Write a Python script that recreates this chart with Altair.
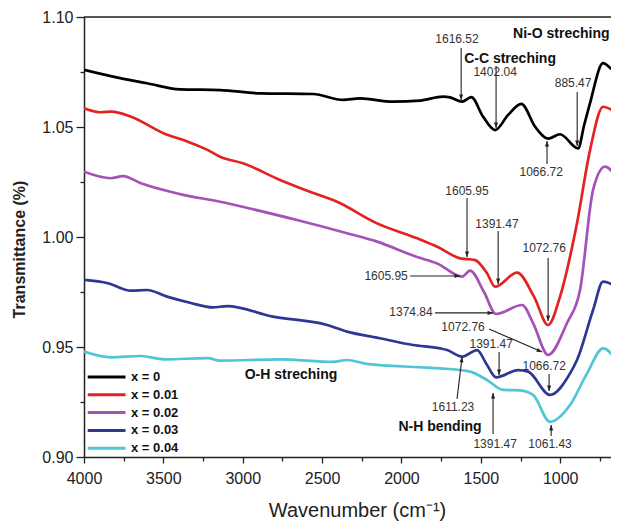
import altair as alt
import pandas as pd

# ---------------- data ----------------
series_names = ["x = 0", "x = 0.01", "x = 0.02", "x = 0.03", "x = 0.04"]
series_colors = ["#000000", "#e32222", "#a552b8", "#2f3694", "#50c5d5"]

wn_x0 = [4000, 3817, 3603, 3395, 3143, 2891, 2557, 2368, 2261, 2053, 1883, 1738, 1694, 1618,
         1560, 1486, 1410, 1328, 1245, 1158, 1076, 1001, 887, 849, 812, 730, 667, 629]
t_x0 = [1.0760, 1.0729, 1.0699, 1.0671, 1.0668, 1.0653, 1.0650, 1.0623, 1.0630, 1.0615, 1.0620,
        1.0638, 1.0635, 1.0615, 1.0636, 1.0547, 1.0486, 1.0555, 1.0605, 1.0501, 1.0447, 1.0467,
        1.0403, 1.0509, 1.0609, 1.0790, 1.0759, 1.0751]

wn_x1 = [4000, 3893, 3830, 3704, 3496, 3345, 3219, 3143, 2998, 2765, 2590, 2406, 2154, 1901,
         1775, 1630, 1536, 1461, 1410, 1272, 1165, 1076, 1001, 894, 812, 730, 629]
t_x1 = [1.0585, 1.0567, 1.0570, 1.0547, 1.0471, 1.0433, 1.0395, 1.0365, 1.0335, 1.0259, 1.0209,
        1.0160, 1.0062, 0.9994, 0.9956, 0.9903, 0.9895, 0.9835, 0.9774, 0.9838, 0.9729, 0.9600,
        0.9729, 1.0064, 1.0395, 1.0592, 1.0555]

wn_x2 = [4000, 3830, 3754, 3641, 3395, 3143, 2935, 2658, 2343, 2154, 1901, 1775, 1618, 1568,
         1480, 1404, 1240, 1171, 1076, 957, 875, 793, 718, 629]
t_x2 = [1.0297, 1.0267, 1.0277, 1.0244, 1.0195, 1.0160, 1.0126, 1.0077, 1.0017, 0.9979, 0.9909,
        0.9880, 0.9820, 0.9847, 0.9750, 0.9650, 0.9691, 0.9609, 0.9464, 0.9609, 0.9759,
        1.0214, 1.0320, 1.0251]

wn_x3 = [4000, 3849, 3704, 3603, 3477, 3332, 3187, 3099, 2809, 2469, 2343, 2135, 1927, 1757,
         1712, 1618, 1524, 1461, 1404, 1265, 1202, 1064, 938, 894, 793, 730, 629]
t_x3 = [0.9805, 0.9790, 0.9756, 0.9759, 0.9729, 0.9701, 0.9680, 0.9686, 0.9638, 0.9600, 0.9570,
        0.9540, 0.9509, 0.9494, 0.9486, 0.9456, 0.9486, 0.9418, 0.9362, 0.9395, 0.9388, 0.9282,
        0.9380, 0.9441, 0.9668, 0.9797, 0.9767]

wn_x4 = [4000, 3830, 3641, 3496, 3219, 3143, 2765, 2431, 2343, 2217, 1883, 1757, 1568, 1461,
         1360, 1253, 1171, 1064, 938, 831, 730, 629]
t_x4 = [0.9479, 0.9453, 0.9459, 0.9444, 0.9449, 0.9438, 0.9444, 0.9433, 0.9441, 0.9423, 0.9408,
        0.9403, 0.9388, 0.9350, 0.9305, 0.9303, 0.9282, 0.9160, 0.9236, 0.9380, 0.9494, 0.9418]

# annotations (text)
ann_text = ["1616.52", "C-C streching", "1402.04", "Ni-O streching", "885.47", "1066.72",
            "1605.95", "1391.47", "1072.76", "1605.95", "1374.84", "1072.76", "1391.47",
            "1066.72", "1611.23", "N-H bending", "1391.47", "1061.43", "O-H streching"]
ann_wn = [1650, 1316, 1410, 1297, 919, 1120, 1587, 1398, 1101, 2097, 1940, 1612, 1435, 1101,
          1675, 1757, 1410, 1064, 2696]
ann_t = [1.0900, 1.0809, 1.0750, 1.0923, 1.0700, 1.0295, 1.0209, 1.0059, 0.9950, 0.9823, 0.9659,
         0.9591, 0.9514, 0.9414, 0.9227, 0.9136, 0.9059, 0.9059, 0.9373]
ann_kind = ["peak", "band", "peak", "band_left", "peak", "peak", "peak", "peak", "peak", "peak",
            "peak", "peak", "peak", "peak", "peak", "band", "peak", "peak", "band"]

# arrows (from -> to)
arr_wn_from = [1624, 1404, 893, 1083, 1587, 1391, 1076, 1946, 1788, 1448, 1385, 1070, 1650, 1423, 1057]
arr_t_from = [1.0859, 1.0777, 1.0659, 1.0332, 1.0177, 1.0027, 0.9905, 0.9823, 0.9655, 0.9582,
              0.9477, 0.9377, 0.9264, 0.9105, 0.9095]
arr_wn_to = [1624, 1404, 893, 1083, 1587, 1391, 1076, 1631, 1423, 1114, 1385, 1070, 1618, 1423, 1057]
arr_t_to = [1.0623, 1.0495, 1.0414, 1.0436, 0.9909, 0.9786, 0.9618, 0.9823, 0.9655, 0.9477,
            0.9373, 0.9300, 0.9455, 0.9291, 0.9145]
arr_dir = [0, 0, 0, 180, 0, 0, 0, 270, 270, 293.5, 0, 0, 186.8, 180, 180]

y_ticks = [0.9, 0.925, 0.95, 0.975, 1.0, 1.025, 1.05, 1.075, 1.1]
x_ticks = [4000, 3750, 3500, 3250, 3000, 2750, 2500, 2250, 2000, 1750, 1500, 1250, 1000, 750]

# ---------------- tables ----------------
rows = []
for name, wns, ts in zip(series_names, [wn_x0, wn_x1, wn_x2, wn_x3, wn_x4],
                         [t_x0, t_x1, t_x2, t_x3, t_x4]):
    for w, t in zip(wns, ts):
        rows.append({"series": name, "wn": w, "t": t})
spec_df = pd.DataFrame(rows)

ann_df = pd.DataFrame({"label": ann_text, "wn": ann_wn, "t": ann_t, "kind": ann_kind})
arr_df = pd.DataFrame({"wn": arr_wn_from, "t": arr_t_from, "wn2": arr_wn_to, "t2": arr_t_to,
                       "dir": arr_dir})

FONT = "Liberation Sans"
xscale = alt.Scale(domain=[680, 4000], reverse=True, nice=False, zero=False)
yscale = alt.Scale(domain=[0.9, 1.1], nice=False, zero=False)

major_y = "round(datum.value*1000) % 50 == 0"
major_x = "datum.value % 500 == 0"

x_axis = alt.Axis(
    title="Wavenumber (cm⁻¹)", values=x_ticks, labelFlush=False, labelOverlap=False,
    labelExpr=f"{major_x} ? format(datum.value, 'd') : ''",
    tickSize={"condition": {"test": major_x, "value": 6}, "value": 4},
    labelFontSize=16, labelColor="#222", labelPadding=7, labelFont=FONT,
    titleFontSize=20, titleFontWeight="normal", titleColor="#222", titleFont=FONT,
    titleX=273, titleY=53, titleAlign="center", titleBaseline="middle",
    domainColor="#222", domainWidth=1.5, tickColor="#222", tickWidth=1.3, grid=False,
)
y_axis = alt.Axis(
    title="Transmittance (%)", values=y_ticks, labelFlush=False, labelOverlap=False,
    labelExpr=f"{major_y} ? format(datum.value, '.2f') : ''",
    tickSize={"condition": {"test": major_y, "value": 8}, "value": 4},
    labelFontSize=16, labelColor="#222", labelPadding=3, labelFont=FONT,
    titleFontSize=16, titleFontWeight="bold", titleColor="#222", titleFont=FONT,
    titleX=-65, titleY=232, titleAngle=-90, titleAlign="center", titleBaseline="middle",
    domainColor="#222", domainWidth=1.5, tickColor="#222", tickWidth=1.3, grid=False,
)

lines = alt.Chart(spec_df).mark_line(strokeWidth=2.7, interpolate="monotone", clip=True).encode(
    x=alt.X("wn:Q", scale=xscale, axis=x_axis),
    y=alt.Y("t:Q", scale=yscale, axis=y_axis),
    color=alt.Color(
        "series:N",
        scale=alt.Scale(domain=series_names, range=series_colors),
        sort=series_names,
        legend=alt.Legend(
            title=None, orient="none", legendX=26, legendY=351.5,
            symbolType="M-4.4,0H1", symbolSize=196, symbolStrokeWidth=3,
            labelFont=FONT, labelFontSize=13, labelFontWeight="bold", labelColor="#111",
            labelOffset=4, rowPadding=1.8, padding=0,
        ),
    ),
    order=alt.Order("wn:Q", sort="descending"),
)

top_frame = alt.Chart(pd.DataFrame({"t": [1.1]})).mark_rule(
    color="#222", strokeWidth=1.5).encode(y=alt.Y("t:Q", scale=yscale))

arrows = alt.Chart(arr_df).mark_rule(color="#222", strokeWidth=1.1).encode(
    x=alt.X("wn:Q", scale=xscale), y=alt.Y("t:Q", scale=yscale),
    x2="wn2:Q", y2="t2:Q",
)
heads = alt.Chart(arr_df).mark_point(
    shape="M0,0L-0.75,-2L0.75,-2Z", size=30, filled=True, color="#222", opacity=1
).encode(
    x=alt.X("wn2:Q", scale=xscale), y=alt.Y("t2:Q", scale=yscale),
    angle=alt.Angle("dir:Q", scale=None),
)

peaks = alt.Chart(ann_df).transform_filter("datum.kind == 'peak'").mark_text(
    font=FONT, fontSize=12, color="#333", align="center", baseline="middle"
).encode(x=alt.X("wn:Q", scale=xscale), y=alt.Y("t:Q", scale=yscale), text="label:N")

bands = alt.Chart(ann_df).transform_filter("datum.kind == 'band'").mark_text(
    font=FONT, fontSize=14, fontWeight="bold", color="#111", align="center", baseline="middle"
).encode(x=alt.X("wn:Q", scale=xscale), y=alt.Y("t:Q", scale=yscale), text="label:N")

bands_left = alt.Chart(ann_df).transform_filter("datum.kind == 'band_left'").mark_text(
    font=FONT, fontSize=14, fontWeight="bold", color="#111", align="left", baseline="middle"
).encode(x=alt.X("wn:Q", scale=xscale), y=alt.Y("t:Q", scale=yscale), text="label:N")

chart = alt.layer(top_frame, lines, arrows, heads, peaks, bands, bands_left).properties(
    width=527, height=440,
    autosize=alt.AutoSizeParams(type="none"),
    padding={"left": 76, "top": 9, "right": 0, "bottom": 66},
).configure_view(stroke=None).configure(font=FONT)

chart.save("out.html", embed_options={"renderer": "svg", "actions": False})
